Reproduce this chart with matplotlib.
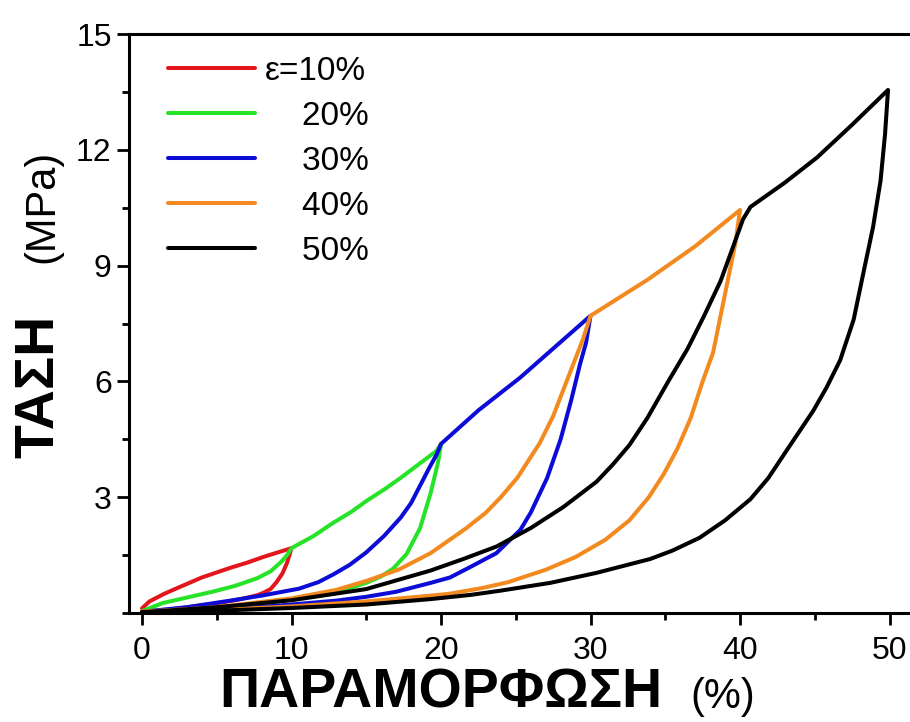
import matplotlib
matplotlib.use("Agg")
import matplotlib.pyplot as plt
from matplotlib.ticker import MultipleLocator

plt.rcParams['font.family'] = ['Liberation Sans', 'DejaVu Sans']

# strain (%) / stress (MPa), loading then unloading
labels = ['ε=10%', '    20%', '    30%', '    40%', '    50%']
colors = ['#e3161e', '#27e327', '#0c0cd6', '#f28a1f', '#000000']

strain_10 = [0, 0.5, 1.5, 2.5, 4, 5.9, 7, 8.1, 9, 10,
             9.7, 9.4, 9.0, 8.6, 8.1, 7.7, 6.5, 5, 3.5, 2, 1, 0]
stress_10 = [0.12, 0.3, 0.5, 0.67, 0.92, 1.17, 1.3, 1.45, 1.56, 1.68,
             1.3, 1.03, 0.8, 0.62, 0.52, 0.46, 0.35, 0.25, 0.17, 0.1, 0.06, 0.04]

strain_20 = [0, 1.4, 3, 4.7, 6.2, 7.7, 8.6, 9.3, 9.7, 10, 11.5, 12.8, 14, 15, 16.2, 17.3, 18.5, 19.7, 20,
             19.8, 19.3, 18.6, 17.7, 16.8, 16, 15, 13.5, 12, 10, 8, 6, 4, 2, 0]
stress_20 = [0.05, 0.26, 0.4, 0.55, 0.7, 0.9, 1.08, 1.32, 1.5, 1.68, 2.0, 2.34, 2.62, 2.9, 3.2, 3.5, 3.85, 4.2, 4.38,
             3.9, 3.1, 2.2, 1.53, 1.15, 0.95, 0.78, 0.6, 0.47, 0.35, 0.25, 0.17, 0.1, 0.05, 0.03]

strain_30 = [0, 3, 5.9, 8, 10.5, 11.8, 12.8, 13.9, 15, 16.2, 17.3, 18, 18.6, 19.2, 19.7, 20, 22.5, 25.3, 27.5, 30,
             29.7, 29.3, 28.7, 28, 27.1, 26, 25.3, 24.5, 23.7, 22, 20.6, 19.3, 17, 15, 13, 10, 7, 4, 2, 0]
stress_30 = [0.03, 0.15, 0.32, 0.45, 0.63, 0.8, 1.0, 1.25, 1.57, 2.0, 2.47, 2.85, 3.3, 3.75, 4.1, 4.38, 5.25, 6.1, 6.85, 7.7,
             7.0, 6.45, 5.5, 4.5, 3.5, 2.6, 2.15, 1.85, 1.55, 1.2, 0.92, 0.78, 0.55, 0.42, 0.32, 0.22, 0.13, 0.07, 0.04, 0.02]

strain_40 = [0, 5, 10, 13, 15, 17.2, 19.3, 21.7, 23, 24, 25.1, 26.6, 27.5, 28.4, 29.5, 30, 33.8, 37, 40,
             39.7, 39.2, 38.7, 38.2, 37.5, 36.7, 35.8, 34.9, 33.9, 32.6, 31, 29, 27, 24.5, 22.8, 20.6, 19.3, 15, 10, 5, 0]
stress_40 = [0.03, 0.15, 0.38, 0.6, 0.83, 1.13, 1.55, 2.2, 2.6, 3.0, 3.5, 4.4, 5.1, 6.0, 7.1, 7.7, 8.63, 9.5, 10.44,
             9.6, 8.65, 7.7, 6.75, 6.0, 5.05, 4.25, 3.6, 3.0, 2.4, 1.9, 1.45, 1.12, 0.8, 0.65, 0.5, 0.45, 0.3, 0.17, 0.08, 0.03]

strain_50 = [0, 5, 10, 15, 19.3, 21.5, 23.7, 26, 28.2, 30.4, 31.5, 32.6, 33.8, 35.2, 36.5, 37.6, 38.7, 39.5, 40.2, 40.7,
             43, 45.15, 47.5, 49.9,
             49.7, 49.4, 48.9, 48.3, 47.6, 46.7, 45.8, 44.9, 43.1, 41.9, 40.7, 39, 37.3, 35.5, 34, 32, 30.4, 27.3, 24, 22,
             19.3, 15, 10, 5, 0]
stress_50 = [0.02, 0.15, 0.33, 0.62, 1.1, 1.4, 1.72, 2.2, 2.75, 3.4, 3.85, 4.35, 5.05, 6.0, 6.85, 7.7, 8.6, 9.45, 10.2, 10.52,
             11.15, 11.8, 12.65, 13.55,
             12.4, 11.2, 10.0, 8.9, 7.6, 6.55, 5.85, 5.24, 4.2, 3.5, 2.95, 2.4, 1.95, 1.62, 1.4, 1.2, 1.04, 0.78, 0.58, 0.47,
             0.36, 0.22, 0.13, 0.06, 0.02]

strains = [strain_10, strain_20, strain_30, strain_40, strain_50]
stresses = [stress_10, stress_20, stress_30, stress_40, stress_50]

W, H = 910, 722
fig = plt.figure(figsize=(W / 100, H / 100), dpi=100)
ax = fig.add_axes([129 / W, 1 - 613 / H, (W - 129) / W, (613 - 34) / H])

for x, y, c, lab in zip(strains, stresses, colors, labels):
    ax.plot(x, y, color=c, lw=2.9, label=lab, solid_joinstyle='round', solid_capstyle='round')

ax.set_xlim(-0.87, 51.37)
ax.set_ylim(0, 15)
ax.set_xticks([0, 10, 20, 30, 40, 50])
ax.set_yticks([3, 6, 9, 12, 15])
ax.xaxis.set_minor_locator(MultipleLocator(5))
ax.yaxis.set_minor_locator(MultipleLocator(1.5))
ax.tick_params(which='both', direction='out', width=2, labelsize=23)
ax.tick_params(which='major', length=8.5)
ax.tick_params(which='minor', length=5)
ax.tick_params(axis='x', pad=8)
ax.tick_params(axis='y', pad=4)
ax.spines['right'].set_visible(False)
for s in ['left', 'bottom', 'top']:
    ax.spines[s].set_linewidth(2.2)

leg = ax.legend(loc='upper left', bbox_to_anchor=(0.05, 0.962), frameon=False,
                fontsize=24, borderpad=0, borderaxespad=0, handlelength=2.6,
                handletextpad=0.3, labelspacing=0.42)

# axis titles: bold greek word plus regular unit
fig.text(219 / W, 1 - 708 / H, 'ΠΑΡΑΜΟΡΦΩΣΗ', fontsize=40, fontweight='bold', ha='left', va='baseline')
fig.text(690 / W, 1 - 708 / H, '(%)', fontsize=30, ha='left', va='baseline')
fig.text(53 / W, 1 - 458 / H, 'ΤΑΣΗ', fontsize=40, fontweight='bold', rotation=90,
         rotation_mode='anchor', ha='left', va='baseline')
fig.text(53 / W, 1 - 263 / H, '(MPa)', fontsize=30, rotation=90,
         rotation_mode='anchor', ha='left', va='baseline')

fig.savefig('out.png', dpi=100)
